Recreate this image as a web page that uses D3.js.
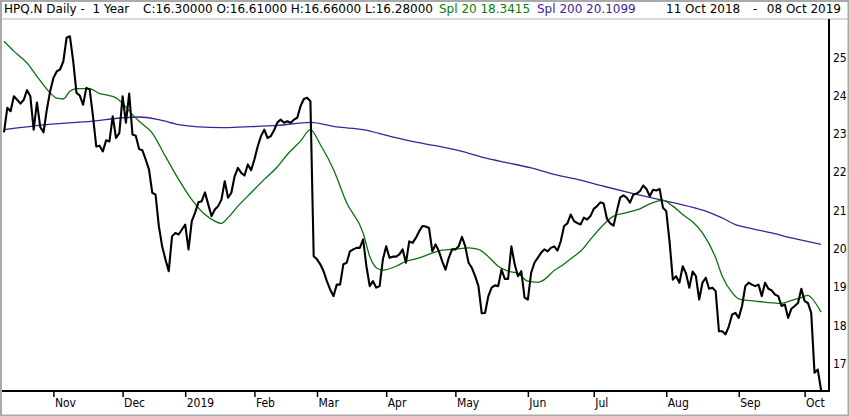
<!DOCTYPE html>
<html>
<head>
<meta charset="utf-8">
<script src="https://cdn.jsdelivr.net/npm/d3@7"></script>
<style>
  body { margin: 0; background: #fff; }
  svg { display: block; }
  .hdr { font-family: "DejaVu Sans", Verdana, sans-serif; font-size: 12px; }
  .ax text { font-family: "DejaVu Sans Condensed", "Liberation Sans", Arial, sans-serif; font-size: 12px; fill: #000; }
</style>
</head>
<body>
<svg width="850" height="417"></svg>
<script>
"use strict";

// daily closes, 11 Oct 2018 .. 08 Oct 2019 (one per trading day)
const closes = [
    23.04, 23.68, 23.59, 23.98, 23.89, 23.79, 23.89, 24.14, 23.98, 23.11,
    23.82, 23.18, 23.04, 23.63, 24.11, 24.46, 24.63, 24.68, 24.89, 25.51,
    25.55, 24.90, 24.07, 24.00, 23.76, 24.20, 24.16, 23.46, 22.67, 22.69,
    22.54, 22.83, 22.80, 23.46, 22.89, 23.02, 23.98, 23.29, 24.05, 22.98,
    22.95, 22.60, 22.57, 22.33, 22.07, 21.46, 21.41, 20.59, 20.06, 19.72,
    19.41, 20.32, 20.41, 20.37, 20.50, 20.63, 19.98, 20.72, 20.94, 21.21,
    21.24, 21.47, 21.15, 20.85, 21.02, 21.11, 21.28, 21.76, 21.33, 21.46,
    21.89, 22.11, 21.98, 21.91, 22.20, 22.05, 22.33, 22.67, 22.94, 23.11,
    22.89, 22.94, 23.10, 23.30, 23.37, 23.29, 23.33, 23.29, 23.37, 23.42,
    23.72, 23.91, 23.94, 23.85, 19.80, 19.72, 19.59, 19.41, 19.15, 18.93,
    18.76, 19.06, 19.06, 19.59, 19.63, 19.93, 19.98, 20.02, 20.02, 20.24,
    19.54, 19.02, 19.15, 18.98, 19.02, 19.72, 20.06, 19.76, 19.79, 19.79,
    19.85, 19.98, 19.63, 20.19, 20.15, 20.28, 20.45, 20.59, 20.58, 20.54,
    19.93, 20.11, 19.93, 19.67, 19.45, 19.76, 19.98, 19.98, 20.06, 20.31,
    20.06, 19.63, 19.50, 19.28, 19.02, 18.31, 18.32, 18.76, 18.98, 19.04,
    19.02, 19.45, 19.21, 19.21, 20.06, 19.59, 19.28, 19.41, 18.72, 18.67,
    19.37, 19.63, 19.76, 19.89, 19.98, 19.93, 20.02, 20.06, 19.95, 20.20,
    20.59, 20.66, 20.89, 20.72, 20.67, 20.63, 20.81, 20.76, 20.85, 21.04,
    21.11, 21.21, 21.18, 20.78, 20.66, 20.60, 20.98, 21.33, 21.39, 21.33,
    21.20, 21.41, 21.44, 21.50, 21.65, 21.56, 21.37, 21.54, 21.52, 21.56,
    21.07, 20.98, 20.19, 19.19, 19.28, 19.11, 19.54, 19.35, 18.98, 19.40,
    19.28, 18.67, 19.11, 19.24, 18.95, 18.98, 18.89, 17.84, 17.84, 17.76,
    17.97, 18.28, 18.32, 18.19, 18.50, 19.02, 19.11, 19.06, 19.02, 19.06,
    18.76, 19.11, 18.95, 18.91, 18.80, 18.76, 18.50, 18.54, 18.19, 18.43,
    18.50, 18.58, 18.95, 18.63, 18.58, 18.32, 16.76, 16.84, 16.30
];

// Spl 20, read at sample days (trading-day index)
const spl20Day = [0, 3, 7, 10, 14, 16, 18, 20, 22, 26, 29, 32, 34, 37, 39, 41, 45, 49, 53, 57,
    61, 64, 66, 68, 71, 75, 79, 83, 86, 90, 93, 96, 100, 104, 109, 111, 113, 115, 119, 122,
    125, 128, 133, 137, 141, 144, 147, 150, 153, 156, 159, 162, 164, 167, 169, 173, 175, 178, 181, 185,
    189, 193, 196, 200, 203, 206, 209, 212, 216, 218, 221, 223, 228, 236, 239, 242, 244, 245, 248];
const spl20 = [25.42, 25.16, 24.85, 24.50, 24.07, 23.93, 23.91, 24.11, 24.18, 24.18, 24.05, 24.00, 23.94, 23.70, 23.50, 23.33, 23.02, 22.41, 21.81, 21.28,
    20.89, 20.72, 20.66, 20.81, 21.11, 21.46, 21.81, 22.14, 22.46, 22.81, 23.11, 22.72, 22.07, 21.20, 20.41, 19.80, 19.50, 19.44, 19.54, 19.67,
    19.73, 19.82, 19.96, 19.99, 20.02, 19.98, 19.79, 19.54, 19.41, 19.35, 19.15, 19.12, 19.19, 19.43, 19.54, 19.80, 19.93, 20.24, 20.54, 20.85,
    20.94, 21.04, 21.17, 21.26, 21.11, 20.89, 20.70, 20.41, 19.76, 19.28, 18.85, 18.69, 18.63, 18.57, 18.65, 18.72, 18.78, 18.72, 18.34];

// Spl 200, read at sample days
const spl200Day = [0, 13, 27, 36, 41, 47, 53, 59, 66, 73, 83, 93, 101, 109, 117, 125, 131, 139, 146, 153,
    160, 167, 174, 182, 191, 199, 209, 214, 218, 222, 226, 233, 239, 248];
const spl200 = [23.11, 23.24, 23.33, 23.42, 23.44, 23.37, 23.24, 23.18, 23.16, 23.18, 23.22, 23.30, 23.18, 23.11, 22.94, 22.78, 22.69, 22.54, 22.37, 22.24,
    22.11, 21.94, 21.81, 21.63, 21.44, 21.28, 21.08, 20.95, 20.80, 20.63, 20.54, 20.41, 20.28, 20.11];

const holidays = ["2018-11-22", "2018-12-05", "2018-12-25", "2019-01-01", "2019-01-21",
    "2019-02-18", "2019-04-19", "2019-05-27", "2019-07-04", "2019-09-02"];
const monthLabels = ["Nov", "Dec", "2019", "Feb", "Mar", "Apr", "May", "Jun", "Jul", "Aug", "Sep", "Oct"];
const priceTicks = [17, 18, 19, 20, 21, 22, 23, 24, 25];

const svg = d3.select("svg");
const W = +svg.attr("width");
const H = +svg.attr("height");

const plotL = 4, plotR = 829, plotT = 19, plotB = 391;

// trading calendar -> first trading day of every month
const iso = d3.timeFormat("%Y-%m-%d");
const days = d3.timeDay.range(new Date(2018, 9, 11), new Date(2019, 9, 9))
    .filter(d => d.getDay() % 6 !== 0 && !holidays.includes(iso(d)));
const monthStart = [];
days.forEach((d, i) => {
    if (i > 0 && d.getMonth() !== days[i - 1].getMonth()) monthStart.push(i);
});

const x = d3.scaleLinear()
    .domain([0, closes.length - 1 + 2.4])
    .range([plotL, plotR]);

const y = d3.scaleLinear()
    .domain([16.28, 26.0])
    .range([plotB, plotT]);

// frame
svg.append("rect")
    .attr("x", 1).attr("y", 1)
    .attr("width", W - 2.5).attr("height", H - 2.5)
    .attr("fill", "#fff")
    .attr("stroke", "#a9a9a9")
    .attr("stroke-width", 2);

svg.append("line")
    .attr("x1", 2).attr("x2", W - 2)
    .attr("y1", plotT).attr("y2", plotT)
    .attr("stroke", "#b4b4b4");

svg.append("defs").append("clipPath").attr("id", "plot")
    .append("rect")
    .attr("x", 2).attr("y", plotT)
    .attr("width", plotR - 2).attr("height", plotB - plotT);

const plot = svg.append("g").attr("clip-path", "url(#plot)");

const maLine = d3.line()
    .x(d => x(d[0]))
    .y(d => y(d[1]))
    .curve(d3.curveMonotoneX);

plot.append("path")
    .datum(d3.zip(spl200Day, spl200))
    .attr("fill", "none")
    .attr("stroke", "#3a2598")
    .attr("stroke-width", 1.3)
    .attr("d", maLine);

plot.append("path")
    .datum(d3.zip(spl20Day, spl20))
    .attr("fill", "none")
    .attr("stroke", "#0c700c")
    .attr("stroke-width", 1.3)
    .attr("d", maLine);

plot.append("path")
    .datum(closes)
    .attr("fill", "none")
    .attr("stroke", "#000")
    .attr("stroke-width", 2.1)
    .attr("stroke-linejoin", "round")
    .attr("d", d3.line().x((d, i) => x(i)).y(d => y(d)));

// axes
const xAxis = svg.append("g")
    .attr("class", "ax")
    .attr("transform", `translate(0,${plotB})`)
    .call(d3.axisBottom(x)
        .tickValues(monthStart)
        .tickFormat((d, i) => monthLabels[i])
        .tickSize(6)
        .tickSizeOuter(0)
        .tickPadding(4));
xAxis.select(".domain")
    .attr("d", `M2,0H${plotR + 1}`)
    .attr("stroke", "#000")
    .attr("stroke-width", 2);
xAxis.selectAll(".tick line").attr("stroke-width", 1.5).attr("y1", 1);
xAxis.selectAll(".tick text")
    .attr("text-anchor", "start")
    .attr("x", 1)
    .attr("y", 16)
    .attr("dy", "0");

const yAxis = svg.append("g")
    .attr("class", "ax")
    .attr("transform", `translate(${plotR},0)`)
    .call(d3.axisRight(y)
        .tickValues(priceTicks)
        .tickFormat(d3.format("d"))
        .tickSize(0)
        .tickPadding(4));
yAxis.select(".domain")
    .attr("d", `M0,${plotT}V${plotB + 1}`)
    .attr("stroke", "#000")
    .attr("stroke-width", 2);

// header
const hdr = svg.append("g").attr("class", "hdr");
const last = closes[closes.length - 1];
hdr.append("text").attr("x", 4).attr("y", 13).attr("fill", "#000")
    .text("HPQ.N Daily -\u00a0\u00a01 Year");
hdr.append("text").attr("x", 143).attr("y", 13).attr("fill", "#000")
    .text(`C:${last.toFixed(5)} O:16.61000 H:16.66000 L:16.28000`);
hdr.append("text").attr("x", 439).attr("y", 13).attr("fill", "#0a7a0a")
    .text("Spl 20 18.3415");
hdr.append("text").attr("x", 537).attr("y", 13).attr("fill", "#3a2598")
    .text("Spl 200 20.1099");
hdr.append("text").attr("x", 666).attr("y", 13).attr("fill", "#000")
    .text("11 Oct 2018");
hdr.append("text").attr("x", 753).attr("y", 13).attr("fill", "#000")
    .text("-");
hdr.append("text").attr("x", 841).attr("y", 13).attr("fill", "#000")
    .attr("text-anchor", "end")
    .text("08 Oct 2019");
</script>
</body>
</html>
